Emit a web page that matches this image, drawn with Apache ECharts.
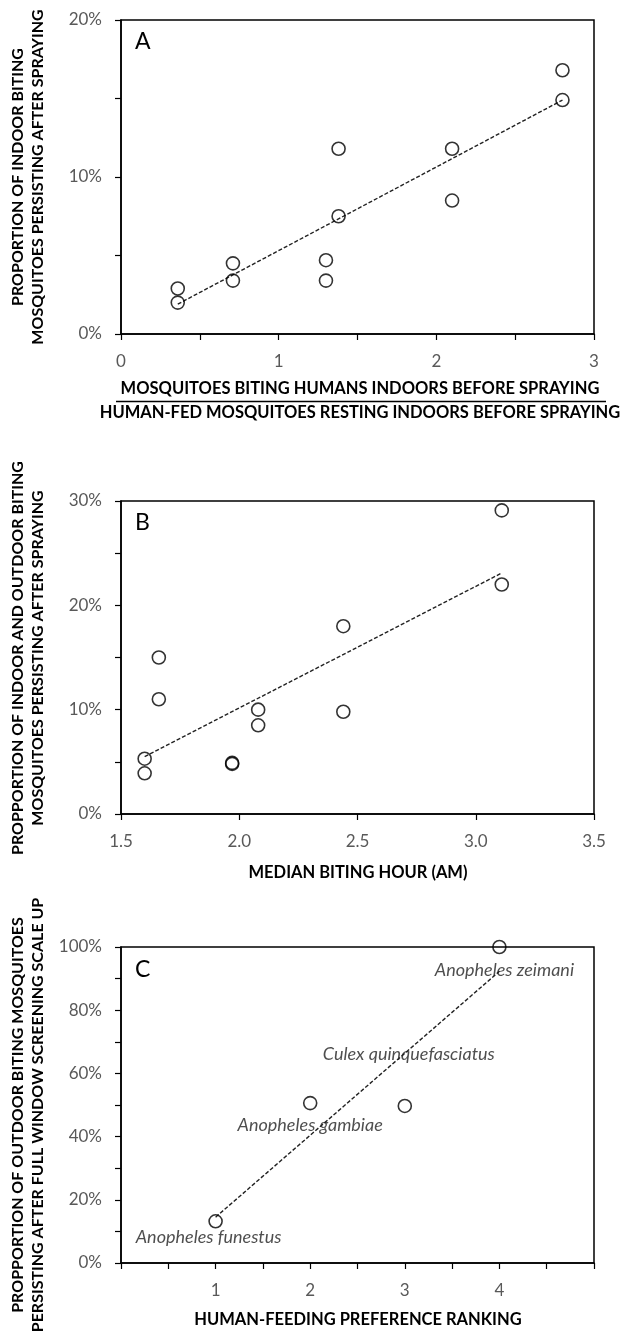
<!DOCTYPE html>
<html>
<head>
<meta charset="utf-8">
<script src="https://cdn.jsdelivr.net/npm/echarts@6/dist/echarts.min.js"></script>
<style>
  html, body { margin: 0; padding: 0; background: #fff; }
  #chart { width: 620px; height: 1339px; }
</style>
</head>
<body>
<div id="chart"></div>
<script>
// panel A: ratio biting indoors / resting indoors vs % persisting indoors
var ratioA = [0.36, 0.36, 0.71, 0.71, 1.30, 1.30, 1.38, 1.38, 2.10, 2.10, 2.80, 2.80]
var persistA = [2.9, 2.0, 4.5, 3.4, 4.7, 3.4, 11.8, 7.5, 11.8, 8.5, 16.8, 14.9]
var trendAX = [0.36, 2.80]
var trendAY = [1.9, 14.9]

// panel B: median biting hour vs % persisting indoor + outdoor
var hourB = [1.60, 1.60, 1.66, 1.66, 1.97, 1.97, 2.08, 2.08, 2.44, 2.44, 3.11, 3.11]
var persistB = [5.3, 3.9, 15.0, 11.0, 4.9, 4.8, 10.0, 8.5, 18.0, 9.8, 29.1, 22.0]
var trendBX = [1.60, 3.11]
var trendBY = [5.5, 23.1]

// panel C: human-feeding rank vs % persisting outdoors after screening
var species = ['Anopheles funestus', 'Anopheles gambiae', 'Culex quinquefasciatus', 'Anopheles zeimani']
var rankC = [1, 2, 3, 4]
var persistC = [13.2, 50.6, 49.7, 100]
var trendCX = [1, 4]
var trendCY = [14.5, 92.3]

var FONT = 'Lato'
var GRAY = '#595959'

function pairs(xs, ys) {
  return xs.map(function (x, i) { return [x, ys[i]] })
}

function makeX(idx, min, max, fmt) {
  return {
    gridIndex: idx, type: 'value', min: min, max: max, interval: 0.5,
    splitLine: { show: false },
    axisLine: { onZero: false, lineStyle: { color: '#000', width: 1.5 } },
    axisTick: { length: 6, lineStyle: { color: '#000', width: 1.2 } },
    axisLabel: { color: GRAY, fontSize: 17, fontFamily: FONT, margin: 19, formatter: fmt }
  }
}
function makeY(idx, max, interval, labelStep) {
  return {
    gridIndex: idx, type: 'value', min: 0, max: max, interval: interval,
    splitLine: { show: false },
    axisLine: { onZero: false, lineStyle: { color: '#000', width: 1.5 } },
    axisTick: { length: 6, lineStyle: { color: '#000', width: 1.2 } },
    axisLabel: {
      color: GRAY, fontSize: 17, fontFamily: FONT, margin: 19,
      formatter: function (v) { return Math.round(v) % labelStep === 0 ? v + '%' : '' }
    }
  }
}
function dots(idx, data) {
  return {
    type: 'scatter', xAxisIndex: idx, yAxisIndex: idx, data: data,
    symbol: 'circle', symbolSize: 13, z: 3,
    itemStyle: { color: 'rgba(0,0,0,0)', borderColor: '#000', borderWidth: 1.6 }
  }
}
function trend(idx, data) {
  return {
    type: 'line', xAxisIndex: idx, yAxisIndex: idx, data: data,
    symbol: 'none', silent: true, z: 2,
    lineStyle: { color: '#222', width: 1.4, type: [4, 2] }
  }
}
function ytitle(x, y, text) {
  return {
    type: 'text', x: x, y: y, rotation: Math.PI / 2,
    style: { text: text, fontFamily: FONT, fontWeight: 'bold', fontSize: 16, fill: '#000', align: 'center', verticalAlign: 'middle' }
  }
}
function xtitle(x, y, text) {
  return {
    type: 'text', x: x, y: y,
    style: { text: text, fontFamily: FONT, fontWeight: 'bold', fontSize: 16.5, fill: '#000', align: 'center', verticalAlign: 'middle' }
  }
}
function letter(x, y, text) {
  return {
    type: 'text', x: x, y: y, z: 10,
    style: { text: text, fontFamily: FONT, fontSize: 23, fill: '#000', align: 'left', verticalAlign: 'middle' }
  }
}

// offsets (px) of the species names from their points
var labelOffsets = [[-7, 16], [0, 22], [4, -52], [5, 23]]
var dataC = rankC.map(function (r, i) {
  return {
    value: [r, persistC[i]],
    label: {
      show: true, formatter: species[i], position: 'inside', offset: labelOffsets[i],
      color: '#222', fontSize: 18, fontStyle: 'italic', fontFamily: FONT
    }
  }
})

var myChart = echarts.init(document.getElementById('chart'))
var option = {
  backgroundColor: '#fff',
  animation: false,
  grid: [
    { left: 121, top: 20, width: 473, height: 314, show: true, borderColor: '#000', borderWidth: 1.5 },
    { left: 121, top: 501, width: 473, height: 313, show: true, borderColor: '#000', borderWidth: 1.5 },
    { left: 121, top: 947, width: 473, height: 316, show: true, borderColor: '#000', borderWidth: 1.5 }
  ],
  xAxis: [
    makeX(0, 0, 3, function (v) { return v % 1 === 0 ? String(v) : '' }),
    makeX(1, 1.5, 3.5, function (v) { return v.toFixed(1) }),
    makeX(2, 0, 5, function (v) { return (v % 1 === 0 && v > 0 && v < 5) ? String(v) : '' })
  ],
  yAxis: [
    makeY(0, 20, 5, 10),
    makeY(1, 30, 5, 10),
    makeY(2, 100, 10, 20)
  ],
  series: [
    trend(0, pairs(trendAX, trendAY)),
    dots(0, pairs(ratioA, persistA)),
    trend(1, pairs(trendBX, trendBY)),
    dots(1, pairs(hourB, persistB)),
    trend(2, pairs(trendCX, trendCY)),
    dots(2, dataC)
  ],
  graphic: [
    letter(135, 42, 'A'),
    letter(135, 523, 'B'),
    letter(135, 970, 'C'),
    ytitle(18, 177, 'PROPORTION OF INDOOR BITING'),
    ytitle(38, 177, 'MOSQUITOES PERSISTING AFTER SPRAYING'),
    xtitle(360, 389, 'MOSQUITOES BITING HUMANS INDOORS BEFORE SPRAYING'),
    {
      type: 'line',
      shape: { x1: 116, y1: 401.5, x2: 606, y2: 401.5 },
      style: { stroke: '#000', lineWidth: 1.3 }
    },
    xtitle(360, 413, 'HUMAN-FED MOSQUITOES RESTING INDOORS BEFORE SPRAYING'),
    ytitle(18, 658, 'PROPPORTION OF INDOOR AND OUTDOOR BITING'),
    ytitle(38, 658, 'MOSQUITOES PERSISTING AFTER SPRAYING'),
    xtitle(358, 873, 'MEDIAN BITING HOUR (AM)'),
    ytitle(18, 1115, 'PROPPORTION OF OUTDOOR BITING MOSQUITOES'),
    ytitle(38, 1115, 'PERSISTING AFTER FULL WINDOW SCREENING SCALE UP'),
    xtitle(358, 1320, 'HUMAN-FEEDING PREFERENCE RANKING')
  ]
}
myChart.setOption(option)
</script>
</body>
</html>
